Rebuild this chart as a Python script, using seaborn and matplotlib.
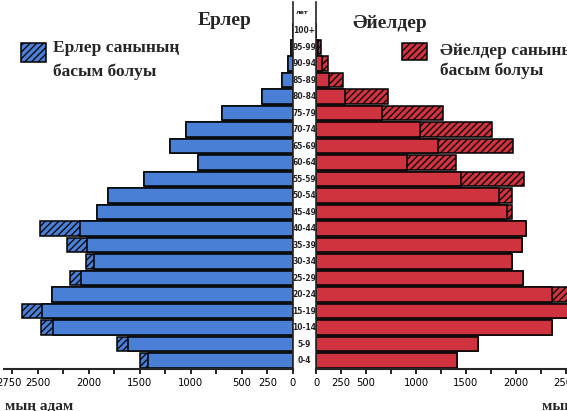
import numpy as np
import pandas as pd
import matplotlib
matplotlib.use('Agg')
import matplotlib.pyplot as plt
import seaborn as sns
from matplotlib.patches import Rectangle
from matplotlib.ticker import FixedLocator, MultipleLocator
from matplotlib.transforms import blended_transform_factory, ScaledTranslation

# age groups, top to bottom
ages = ['100+', '95-99', '90-94', '85-89', '80-84', '75-79', '70-74', '65-69',
        '60-64', '55-59', '50-54', '45-49', '40-44', '35-39', '30-34', '25-29',
        '20-24', '15-19', '10-14', '5-9', '0-4']

# men (thousand people): solid part and total incl. hatched excess
men_solid = [0, 20, 50, 110, 300, 700, 1050, 1200, 930, 1460, 1810, 1920,
             2090, 2020, 1950, 2080, 2360, 2460, 2350, 1620, 1420]
men_total = [0, 20, 50, 110, 300, 700, 1050, 1200, 930, 1460, 1810, 1920,
             2480, 2210, 2030, 2180, 2360, 2650, 2470, 1720, 1500]

# women (thousand people)
women_solid = [0, 20, 60, 130, 290, 660, 1040, 1220, 910, 1450, 1830, 1910,
               2100, 2060, 1960, 2070, 2360, 2560, 2360, 1620, 1410]
women_total = [0, 50, 120, 270, 720, 1270, 1760, 1970, 1400, 2080, 1960, 1960,
               2100, 2060, 1960, 2070, 2560, 2560, 2360, 1620, 1410]

left_ticks = [2750, 2500, 2000, 1500, 1000, 500, 250, 0]
right_ticks = [0, 250, 500, 1000, 1500, 2000, 2500]

blue = '#4a7fd6'
red = '#cf3340'

sns.set_style('white')
plt.rcParams['font.family'] = ['Liberation Serif', 'DejaVu Serif']
plt.rcParams['hatch.linewidth'] = 0.9

df = pd.DataFrame({'age': ages, 'men_solid': men_solid, 'men_total': men_total,
                   'women_solid': women_solid, 'women_total': women_total})

fig = plt.figure(figsize=(5.67, 4.11), dpi=100)
ax_m = fig.add_axes([4/567, 42.25/411, 289/567, 366.75/411])
ax_w = fig.add_axes([316/567, 42.25/411, 251/567, 366.75/411])

bar_kw = dict(order=ages, saturation=1, edgecolor='black', linewidth=1.1,
              width=0.9, errorbar=None)
sns.barplot(data=df, x='men_total', y='age', color=blue, hatch='/////', ax=ax_m, **bar_kw)
sns.barplot(data=df, x='men_solid', y='age', color=blue, ax=ax_m, **bar_kw)
sns.barplot(data=df, x='women_total', y='age', color=red, hatch='/////', ax=ax_w, **bar_kw)
sns.barplot(data=df, x='women_solid', y='age', color=red, ax=ax_w, **bar_kw)

ax_m.set_xlim(2830, 0)
ax_w.set_xlim(0, 2510)
for ax, ticks in [(ax_m, left_ticks), (ax_w, right_ticks)]:
    ax.set_ylim(20.5, -1.73)
    ax.set_xlabel('')
    ax.set_ylabel('')
    ax.set_yticks([])
    ax.xaxis.set_major_locator(FixedLocator(ticks))
    ax.xaxis.set_minor_locator(MultipleLocator(250))
    ax.set_xticklabels([str(t) for t in ticks], fontsize=7.2, family='DejaVu Sans')
    ax.tick_params(axis='x', which='both', direction='out', length=3.5, width=1.2,
                   pad=3, bottom=True, colors='black')
    ax.spines['top'].set_visible(False)
    ax.spines['bottom'].set_linewidth(1.5)
ax_m.spines['left'].set_visible(False)
ax_m.spines['right'].set_linewidth(1.2)
ax_w.spines['right'].set_visible(False)
ax_w.spines['left'].set_linewidth(1.2)

# nudge the crowded 2750 label a little to the left
lbl = ax_m.get_xticklabels()[0]
lbl.set_transform(lbl.get_transform() + ScaledTranslation(-3/100, 0, fig.dpi_scale_trans))

# age labels in the middle column
trans = blended_transform_factory(fig.transFigure, ax_m.transData)
for i, a in enumerate(ages):
    fig.text(304.5/567, i, a, transform=trans, ha='center', va='center',
             fontsize=6, family='DejaVu Sans', fontweight='bold', fontstretch='condensed')
fig.text(302/567, 1 - 13/411, 'лет', ha='center', va='center', fontsize=4.5,
         family='DejaVu Sans', fontweight='bold')

# titles
fig.text(225/567, 1 - 25/411, 'Ерлер', ha='center', va='baseline',
         fontsize=14, fontweight='bold')
fig.text(390/567, 1 - 28/411, 'Әйелдер', ha='center', va='baseline',
         fontsize=14, fontweight='bold')

# legend boxes
fig.add_artist(Rectangle((21/567, 1 - 62/411), 25/567, 19/411, transform=fig.transFigure,
                         facecolor=blue, edgecolor='black', hatch='/////', linewidth=1.1))
fig.add_artist(Rectangle((402/567, 1 - 60/411), 25/567, 17/411, transform=fig.transFigure,
                         facecolor=red, edgecolor='black', hatch='/////', linewidth=1.1))
fig.text(53/567, 1 - 52/411, 'Ерлер санының', va='baseline', fontsize=12.5, fontweight='bold')
fig.text(53/567, 1 - 76/411, 'басым болуы', va='baseline', fontsize=12.5, fontweight='bold')
fig.text(440/567, 1 - 55/411, 'Әйелдер санының', va='baseline', fontsize=12.5, fontweight='bold')
fig.text(440/567, 1 - 75/411, 'басым болуы', va='baseline', fontsize=12.5, fontweight='bold')

# units
fig.text(5/567, 1 - 409/411, 'мың адам', va='baseline', fontsize=11, fontweight='bold')
fig.text(542/567, 1 - 409/411, 'мың адам', va='baseline', fontsize=11, fontweight='bold')

fig.savefig('out.png', dpi=100)
